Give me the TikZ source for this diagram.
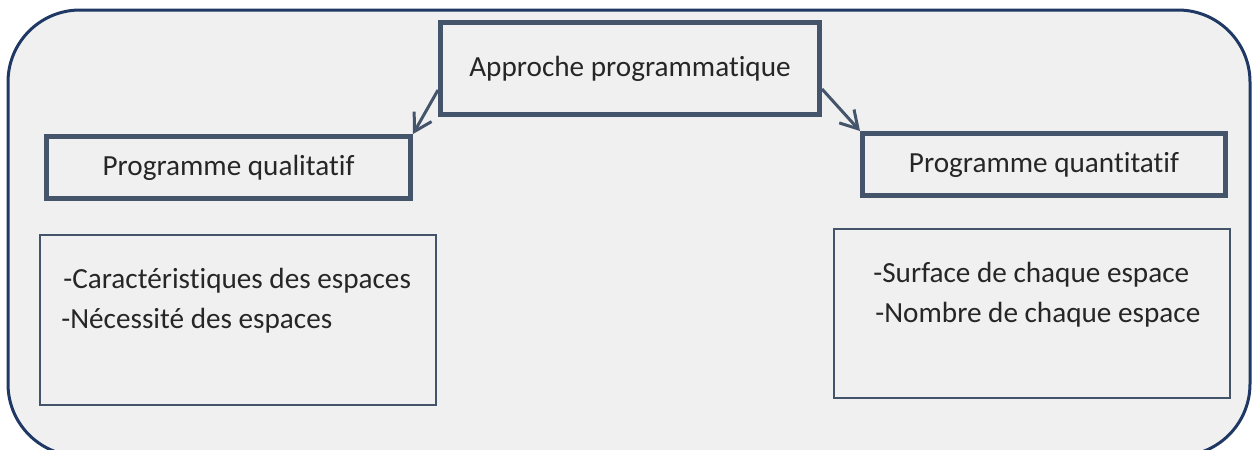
\documentclass[tikz,border=0pt]{standalone}
\usepackage{fontspec}
\setmainfont{Carlito}[Ligatures=NoCommon]
\usepackage{xcolor}
\usepackage{tikz}
\usetikzlibrary{positioning,arrows.meta}

\definecolor{cadre}{HTML}{1F3864}
\definecolor{ardoise}{HTML}{44546A}
\definecolor{fond}{HTML}{F0F0F0}
\definecolor{texte}{HTML}{262626}

\begin{document}
\begin{tikzpicture}[
        x=0.5pt, y=-0.5pt,
        >={Straight Barb[length=8.5pt,width=10pt]},
        every node/.style={font=\fontsize{14.6}{17}\selectfont, text=texte},
        titre/.style={rectangle, draw=ardoise, line width=2.5pt, fill=fond},
        liste/.style={rectangle, draw=ardoise, line width=1pt, fill=fond,
            minimum width=198pt},
        ligne/.style={anchor=base west, inner sep=0pt}
    ]
        \clip (0,0) rectangle (1254,450);
        \draw[cadre, line width=1.5pt, fill=fond, rounded corners=36pt] (8,10) rectangle (1250,456);

        \node[titre, minimum width=189.5pt, minimum height=46pt] (approche) at (630,68.5) {Approche programmatique\hspace{7pt}};
        \node[titre, minimum width=182pt, minimum height=31pt] (qualitatif) at (228.5,167.5) {Programme qualitatif};
        \node[titre, minimum width=181.5pt, minimum height=31pt] (quantitatif) at (1044,164.5) {Programme quantitatif};

        \node[liste, minimum height=85pt] (qualliste) at (238,320) {};
        \node[liste, minimum height=84.5pt] (quantliste) at (1032,313.5) {};

        \node[ligne] (carac) at (63,288) {-Caractéristiques des espaces};
        \node[ligne] (necess) at (61,328) {-Nécessité des espaces};
        \node[ligne] (surface) at (873,282) {-Surface de chaque espace};
        \node[ligne] (nombre) at (875,322) {-Nombre de chaque espace};

        \draw[->, ardoise, line width=1.5pt] ([yshift=13.5pt]approche.south west) -- (qualitatif.north east);
        \draw[->, ardoise, line width=1.5pt] ([yshift=14pt]approche.south east) -- (quantitatif.north west);
    \end{tikzpicture}
\end{document}
